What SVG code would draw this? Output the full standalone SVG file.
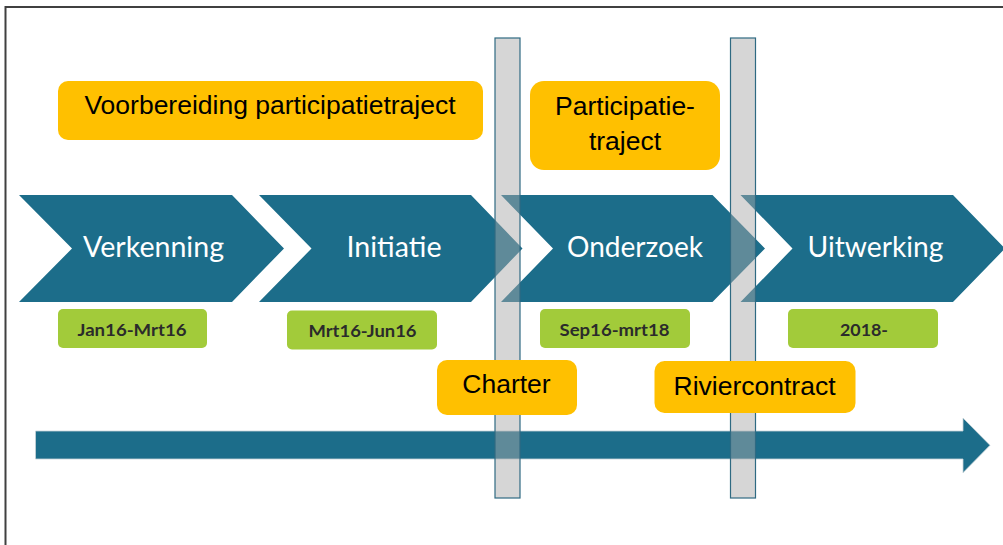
<svg xmlns="http://www.w3.org/2000/svg" width="1003" height="545" viewBox="0 0 1003 545">
  <style>
    .chev { fill: #1c6d8a; }
    .chevtxt { font-family: Lato, "Noto Sans", sans-serif; font-size: 29px; fill: #ffffff; text-anchor: middle; }
    .date { fill: #a2cb3a; }
    .datetxt { font-family: Lato, "Noto Sans", sans-serif; font-weight: 700; font-size: 17.5px; fill: #2b2b2b; text-anchor: middle; }
    .orange { fill: #ffc000; }
    .otxt { font-family: "Liberation Sans", Arial, sans-serif; font-size: 26.5px; fill: #000000; text-anchor: middle; }
    .bar { fill: #a9a9a9; fill-opacity: 0.48; stroke: #2f6a82; stroke-width: 1.2; }
  </style>
  <rect x="0" y="0" width="1003" height="545" fill="#ffffff"/>
  <path d="M5.5 545 V7 H1003" fill="none" stroke="#404040" stroke-width="2"/>

  <g id="chevron-verkenning">
    <polygon class="chev" points="19,195 232,195 284,248.5 232,302 19,302 72,248.5"/>
    <text class="chevtxt" x="153.5" y="257" textLength="141" lengthAdjust="spacingAndGlyphs">Verkenning</text>
  </g>
  <g id="chevron-initiatie">
    <polygon class="chev" points="259,195 471,195 522.5,248.5 471,302 259,302 311.5,248.5"/>
    <text class="chevtxt" x="394" y="257" textLength="95" lengthAdjust="spacingAndGlyphs">Initiatie</text>
  </g>
  <g id="chevron-onderzoek">
    <polygon class="chev" points="501,195 712.5,195 765,248.5 712.5,302 501,302 553,248.5"/>
    <text class="chevtxt" x="635" y="257" textLength="136" lengthAdjust="spacingAndGlyphs">Onderzoek</text>
  </g>
  <g id="chevron-uitwerking">
    <polygon class="chev" points="740.5,195 953,195 1005,248.5 953,302 740.5,302 792.5,248.5"/>
    <text class="chevtxt" x="875.5" y="257" textLength="136" lengthAdjust="spacingAndGlyphs">Uitwerking</text>
  </g>

  <g id="date-jan16-mrt16">
    <rect class="date" x="58" y="309" width="149" height="39" rx="5"/>
    <text class="datetxt" x="132" y="336" textLength="109" lengthAdjust="spacingAndGlyphs">Jan16-Mrt16</text>
  </g>
  <g id="date-mrt16-jun16">
    <rect class="date" x="287" y="310.5" width="150" height="39" rx="5"/>
    <text class="datetxt" x="362.5" y="337" textLength="108" lengthAdjust="spacingAndGlyphs">Mrt16-Jun16</text>
  </g>
  <g id="date-sep16-mrt18">
    <rect class="date" x="540" y="309" width="150" height="39" rx="5"/>
    <text class="datetxt" x="614.5" y="336" textLength="110" lengthAdjust="spacingAndGlyphs">Sep16-mrt18</text>
  </g>
  <g id="date-2018">
    <rect class="date" x="788" y="309" width="150" height="39" rx="5"/>
    <text class="datetxt" x="864" y="336" textLength="48" lengthAdjust="spacingAndGlyphs">2018-</text>
  </g>

  <g id="box-voorbereiding">
    <rect class="orange" x="58" y="81" width="425" height="59" rx="10"/>
    <text class="otxt" x="270" y="114">Voorbereiding participatietraject</text>
  </g>
  <g id="box-participatietraject">
    <rect class="orange" x="530" y="81" width="190" height="89" rx="14"/>
    <text class="otxt" x="625" y="115">Participatie-</text>
    <text class="otxt" x="625" y="150">traject</text>
  </g>

  <g id="timeline-arrow">
    <polygon points="35.5,431 963,431 963,418 990,445.3 963,472.7 963,459 35.5,459" fill="#1c6d8a" stroke="#c8d3d8" stroke-width="0.8"/>
  </g>

  <g id="milestone-bar-1">
    <rect class="bar" x="495" y="38" width="25" height="460"/>
  </g>
  <g id="milestone-bar-2">
    <rect class="bar" x="730.5" y="38" width="25" height="460"/>
  </g>

  <g id="box-charter">
    <rect class="orange" x="437" y="360" width="140" height="55" rx="10"/>
    <text class="otxt" x="506.5" y="393">Charter</text>
  </g>
  <g id="box-riviercontract">
    <rect class="orange" x="654.5" y="361" width="201" height="52" rx="10"/>
    <text class="otxt" x="754.5" y="395">Riviercontract</text>
  </g>

  <g id="connectors"></g>
</svg>
